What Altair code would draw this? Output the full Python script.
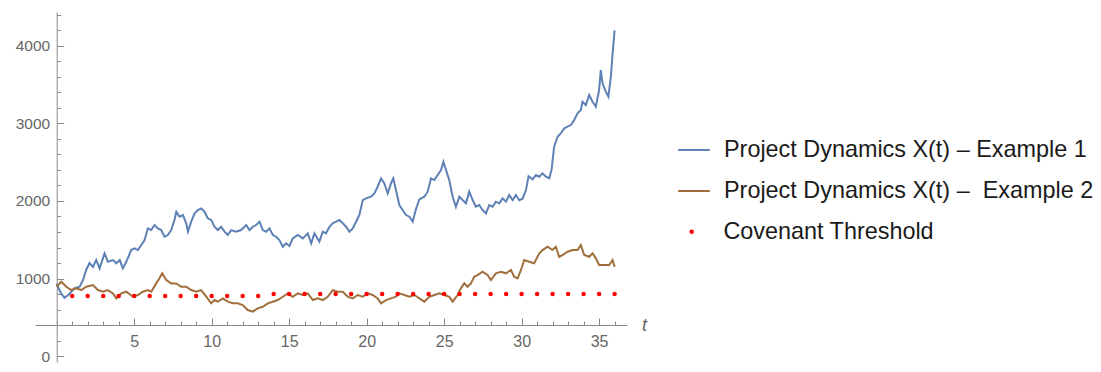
import altair as alt
import pandas as pd

# ---- data ----
blue_t = [0.0, 0.25, 0.5, 0.77, 1.16, 1.48, 1.7, 1.9, 2.12, 2.34, 2.55, 2.77, 2.98, 3.09, 3.3, 3.63, 3.85, 4.07,
          4.27, 4.49, 4.81, 5.02, 5.24, 5.46, 5.67, 5.88, 6.1, 6.31, 6.53, 6.74, 6.96, 7.17, 7.39, 7.6, 7.72, 7.93,
          8.15, 8.36, 8.47, 8.68, 8.9, 9.11, 9.32, 9.54, 9.75, 9.97, 10.18, 10.4, 10.61, 10.83, 11.04, 11.26, 11.58,
          11.9, 12.23, 12.44, 12.66, 12.87, 13.09, 13.3, 13.52, 13.73, 13.95, 14.16, 14.37, 14.59, 14.8, 15.02, 15.23,
          15.56, 15.88, 16.2, 16.42, 16.63, 16.95, 17.17, 17.38, 17.6, 17.81, 18.03, 18.24, 18.46, 18.67, 18.89, 19.1,
          19.32, 19.53, 19.75, 19.96, 20.28, 20.5, 20.71, 20.93, 21.14, 21.36, 21.57, 21.72, 21.89, 22.11, 22.32,
          22.54, 22.76, 22.97, 23.19, 23.4, 23.72, 23.94, 24.15, 24.37, 24.58, 24.8, 24.95, 25.12, 25.33, 25.55,
          25.76, 25.98, 26.19, 26.41, 26.62, 26.84, 27.05, 27.27, 27.48, 27.7, 27.91, 28.13, 28.34, 28.56, 28.77,
          28.99, 29.2, 29.42, 29.63, 29.85, 30.06, 30.28, 30.45, 30.71, 30.92, 31.14, 31.35, 31.57, 31.78, 31.93,
          32.1, 32.32, 32.53, 32.75, 32.96, 33.18, 33.39, 33.61, 33.82, 33.93, 34.14, 34.36, 34.58, 34.79, 35.0,
          35.11, 35.22, 35.43, 35.6, 35.76, 35.87, 36.0]
blue_v = [930, 820, 750, 790, 877, 894, 980, 1110, 1200, 1150, 1240, 1130, 1260, 1325, 1216, 1238, 1196, 1238,
          1131, 1216, 1367, 1389, 1367, 1432, 1496, 1647, 1625, 1690, 1647, 1625, 1539, 1561, 1625, 1754, 1862, 1797,
          1819, 1712, 1604, 1733, 1840, 1883, 1905, 1862, 1776, 1754, 1668, 1625, 1668, 1604, 1561, 1625, 1604,
          1625, 1690, 1625, 1668, 1690, 1733, 1625, 1604, 1647, 1561, 1539, 1496, 1410, 1454, 1420, 1518,
          1561, 1518, 1583, 1454, 1583, 1475, 1604, 1583, 1668, 1712, 1733, 1754, 1712, 1668, 1604, 1647,
          1733, 1819, 2012, 2034, 2055, 2098, 2184, 2292, 2227, 2098, 2227, 2292, 2141, 1948, 1883,
          1819, 1797, 1733, 1900, 2020, 2055, 2120, 2292, 2270, 2335, 2400, 2507, 2400, 2270, 2055,
          1926, 2055, 2012, 1970, 2120, 2012, 1926, 1948, 1883, 1840, 1948, 1926, 1991, 1970, 2034,
          1991, 2077, 2012, 2077, 2010, 2030, 2141, 2320, 2280, 2335, 2313, 2357, 2313, 2292, 2400,
          2700, 2829, 2873, 2937, 2958, 2980, 3044, 3131, 3173, 3281, 3238, 3367, 3281, 3216, 3431,
          3689, 3518, 3410, 3345, 3603, 3905, 4200]

brown_t = [0.0, 0.3, 0.62, 0.94, 1.27, 1.59, 1.91, 2.34, 2.66, 2.98, 3.3, 3.63, 3.85, 4.17, 4.49, 4.92, 5.24, 5.56,
           5.88, 6.1, 6.42, 6.63, 6.81, 7.07, 7.39, 7.71, 8.03, 8.36, 8.68, 9.0, 9.32, 9.65, 9.97, 10.18, 10.4,
           10.72, 11.04, 11.36, 11.68, 12.0, 12.33, 12.65, 12.97, 13.3, 13.62, 13.94, 14.26, 14.59, 14.91, 15.23,
           15.56, 15.88, 16.2, 16.53, 16.85, 17.17, 17.49, 17.81, 18.13, 18.46, 18.78, 19.1, 19.42, 19.75, 20.07,
           20.39, 20.71, 20.93, 21.25, 21.57, 21.89, 22.11, 22.43, 22.76, 23.08, 23.4, 23.72, 24.05, 24.37, 24.69,
           25.01, 25.33, 25.55, 25.87, 26.08, 26.3, 26.51, 26.73, 26.94, 27.16, 27.48, 27.8, 28.02, 28.34, 28.67,
           28.99, 29.31, 29.52, 29.74, 29.96, 30.17, 30.49, 30.81, 31.14, 31.35, 31.67, 31.99, 32.21, 32.42, 32.64,
           32.96, 33.28, 33.61, 33.82, 34.04, 34.36, 34.58, 34.79, 35.0, 35.33, 35.65, 35.87, 36.0]
brown_v = [894, 958, 894, 851, 873, 851, 894, 916, 851, 830, 851, 808, 744, 808, 830, 765, 787, 830,
           851, 830, 937, 1002, 1067, 980, 937, 937, 894, 894, 851, 830, 851, 765, 680, 722, 701,
           744, 701, 680, 680, 658, 593, 572, 615, 636, 680, 701, 722, 765, 808, 765,
           808, 787, 808, 722, 744, 722, 765, 851, 830, 830, 765, 744, 787, 765, 808,
           787, 744, 680, 722, 744, 765, 808, 787, 765, 787, 744, 701, 765, 787, 808,
           787, 765, 701, 787, 873, 937, 894, 937, 1023, 1045, 1088, 1045, 980, 1067, 1088,
           1067, 1110, 1023, 1002, 1110, 1238, 1216, 1196, 1325, 1367, 1410, 1367, 1410, 1281, 1303,
           1345, 1367, 1367, 1432, 1303, 1281, 1325, 1260, 1174, 1174, 1174, 1238, 1152]

thr_t = [1, 2, 3, 4, 5, 6, 7, 8, 9, 10, 11, 12, 13, 14, 15, 16, 17, 18,
         19, 20, 21, 22, 23, 24, 25, 26, 27, 28, 29, 30, 31, 32, 33, 34, 35, 36]
thr_v = [775, 775, 775, 775, 775, 775, 775, 775, 775, 775, 775, 775, 775, 800, 800, 800, 800, 800,
         800, 800, 800, 800, 800, 800, 800, 800, 800, 800, 800, 800, 800, 800, 800, 800, 800, 800]

name1 = "Project Dynamics X(t) \u2013 Example 1"
name2 = "Project Dynamics X(t) \u2013\u00a0 Example 2"
name3 = "Covenant Threshold"

x_minor = list(range(0, 37))
x_major = [5, 10, 15, 20, 25, 30, 35]
y_minor = list(range(0, 4401, 200))
y_major = [0, 1000, 2000, 3000, 4000]

# ---- layout ----
X0, X1 = -1.4, 36.8
H = 350
Y1 = 4438
Y0 = Y1 - H * 12.9
W = 592
X_CROSS = 400  # value where the t axis crosses
x_off = -(Y1 - X_CROSS) / (Y1 - Y0) * H
y_off = -(X1 - 0) / (X1 - X0) * W

FONT = "Liberation Sans"
AX = "#8a8a8a"
LAB = "#666666"
LEG_FS = 23.4

lines = pd.DataFrame({
    "t": blue_t + brown_t,
    "v": blue_v + brown_v,
    "series": [name1] * len(blue_t) + [name2] * len(brown_t),
})
thr = pd.DataFrame({"t": thr_t, "v": thr_v, "series": [name3] * len(thr_t)})

xs = alt.Scale(domain=[X0, X1], nice=False, zero=False)
ys = alt.Scale(domain=[Y0, Y1], nice=False, zero=False)

line_layer = alt.Chart(lines).mark_line(strokeWidth=2).encode(
    x=alt.X("t:Q", scale=xs, axis=alt.Axis(
        orient="top", offset=x_off, values=x_minor, labels=False, ticks=True, tickSize=4,
        tickColor=AX, domain=True, domainColor=AX, grid=False, title=None)),
    y=alt.Y("v:Q", scale=ys, axis=alt.Axis(
        orient="right", offset=y_off, values=y_minor, labels=False, ticks=True, tickSize=4,
        tickColor=AX, domain=True, domainColor=AX, grid=False, title=None)),
    color=alt.Color("series:N", scale=alt.Scale(domain=[name1, name2], range=["#5E81B5", "#A06F3C"]),
                    legend=alt.Legend(orient="none", legendX=642, legendY=121, title=None,
                                      symbolType="stroke", symbolSize=1000, symbolStrokeWidth=2,
                                      labelFont=FONT, labelFontSize=LEG_FS, labelColor="#1a1a1a",
                                      labelOffset=13, rowPadding=12, padding=0, labelLimit=600)),
)

pt_layer = alt.Chart(thr).mark_point(filled=True, size=20, opacity=1).encode(
    x=alt.X("t:Q", scale=xs, axis=alt.Axis(
        orient="top", offset=x_off, values=x_major, labels=True, ticks=True, tickSize=7,
        tickColor=AX, domain=False, grid=False, labelPadding=-15, labelBaseline="top",
        labelFont=FONT, labelFontSize=16, labelColor=LAB, labelFlush=False, format="d",
        title="t", titleX=W + 17, titleY=0, titleBaseline="middle", titleAlign="center",
        titleFont=FONT, titleFontSize=18, titleFontStyle="italic", titleFontWeight="normal",
        titleColor=LAB, titleAngle=0)),
    y=alt.Y("v:Q", scale=ys, axis=alt.Axis(
        orient="right", offset=y_off, values=y_major, labels=True, ticks=True, tickSize=7,
        tickColor=AX, domain=False, grid=False, labelPadding=-14, labelAlign="right",
        labelBaseline="middle", labelFont=FONT, labelFontSize=15.5, labelColor=LAB,
        labelFlush=False, format="d", title=None)),
    fill=alt.Fill("series:N", scale=alt.Scale(domain=[name3], range=["#FF0000"]),
                  legend=alt.Legend(orient="none", legendX=645, legendY=208, title=None,
                                    symbolType="circle", symbolSize=20, symbolStrokeWidth=0,
                                    labelFont=FONT, labelFontSize=LEG_FS, labelColor="#1a1a1a",
                                    labelOffset=20, padding=0, labelLimit=600)),
)

chart = alt.layer(line_layer, pt_layer).resolve_axis(x="independent", y="independent").resolve_scale(
    color="independent").properties(
    width=W, height=H,
    autosize=alt.AutoSizeParams(type="none"),
    padding={"left": 27, "top": 4, "right": 466, "bottom": 2},
    background="white",
).configure_view(stroke=None)

chart.save("out.html", embed_options={"renderer": "svg", "actions": False})
